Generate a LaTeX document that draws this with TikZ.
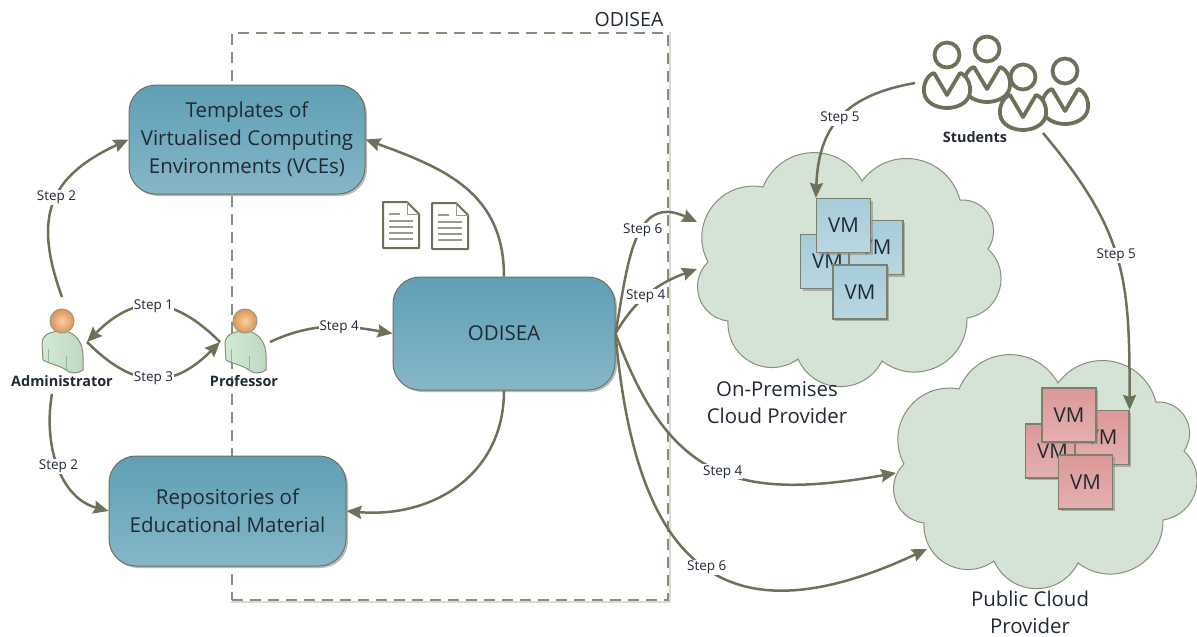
\documentclass[tikz,border=0pt]{standalone}
\usepackage{fontspec}
\setmainfont{Open Sans}
\usepackage{tikz}
\usetikzlibrary{arrows.meta}
\usetikzlibrary{shadows}
\definecolor{flowcol}{HTML}{6E705A}
\definecolor{textcol}{HTML}{1F2A33}
\definecolor{boxtop}{HTML}{5F9FB5}
\definecolor{boxbot}{HTML}{86B6C8}
\definecolor{cloudfill}{HTML}{D5E3D6}
\definecolor{vmbluetop}{HTML}{A6CCDA}
\definecolor{vmbluebot}{HTML}{BAD7E0}
\definecolor{vmredtop}{HTML}{DC9898}
\definecolor{vmredbot}{HTML}{E4B0B0}
\definecolor{actorlight}{HTML}{D3E8D3}
\definecolor{actordark}{HTML}{8DB89A}
\definecolor{headlight}{HTML}{F6CFA8}
\definecolor{headdark}{HTML}{DE9450}
\tikzset{
  softshadow/.style={drop shadow={shadow xshift=2pt,shadow yshift=-2pt,fill=black!45,opacity=.6}},
  bigbox/.style={rectangle,rounded corners=27pt,draw=flowcol,line width=1pt,
                 top color=boxtop,bottom color=boxbot,
                 align=center,softshadow,text=textcol,
                 font=\fontsize{20.5}{28}\selectfont},
  flow/.style={draw=flowcol,line width=2.5pt,-{Stealth[length=15pt,width=13pt,inset=2pt]}},
  steplabel/.style={fill=white,inner sep=1pt,text=textcol,font=\fontsize{13.5}{15}\selectfont},
  actorbox/.style={rectangle,minimum width=50pt,minimum height=90pt,inner sep=0pt,outer sep=0pt},
  actorname/.style={font=\fontsize{14.4}{16}\selectfont\bfseries,text=textcol,inner sep=1pt},
  vmbox/.style={rectangle,draw=flowcol!90,line width=1.2pt,minimum size=54pt,inner sep=0pt,
                softshadow,text=textcol,font=\fontsize{20.5}{24}\selectfont},
  vmblue/.style={vmbox,top color=vmbluetop,bottom color=vmbluebot},
  vmred/.style={vmbox,top color=vmredtop,bottom color=vmredbot},
  cloudname/.style={align=center,text=textcol,inner sep=0pt,font=\fontsize{20.4}{27}\selectfont},
  areaholder/.style={rectangle,minimum height=225pt,inner sep=0pt,outer sep=0pt},
  puff/.style={bend left=64,looseness=1.2},
  pics/cloudshape/.style={code={
    \draw[fill=cloudfill,draw=flowcol!80,line width=1pt]
      (-89,-81) to[puff] (10,-87) to[puff] (108,-68) to[puff] (136,-19)
      to[puff] (115,50) to[puff] (30,93) to[puff] (-54,91)
      to[puff] (-124,53) to[puff] (-144,-6) to[puff] (-89,-81) -- cycle;
  }},
  pics/actoricon/.style={code={
    \draw[draw=flowcol!80,line width=1pt,left color=actorlight,right color=actorlight!70!actordark]
      (-20,2) .. controls (-20,-9) and (-9,-11) .. (2,-11)
      .. controls (14,-10) and (21,2) .. (21,13) -- (21,28)
      .. controls (15,32) and (9,32) .. (4,28)
      .. controls (-3,23) and (-12,22) .. (-19,18) -- cycle;
    \draw[actordark,line width=1pt] (-14,7) -- (-14,20) (4,14) -- (4,28);
    \draw[draw=flowcol!70,line width=1pt,inner color=headlight,outer color=headdark] (0,-21) circle (12);
  }},
  pics/learnericon/.style={code={
    \draw[draw=flowcol,line width=3.8pt,fill=white] (0,0) circle (12.5);
    \draw[draw=flowcol,line width=3.8pt,fill=white,line join=round]
      (0,40) -- (-13,18) .. controls (-20,20) and (-24,30) .. (-23,37)
      .. controls (-22,48) and (-10,53) .. (0,53)
      .. controls (10,53) and (22,48) .. (23,37)
      .. controls (24,30) and (20,20) .. (13,18) -- cycle;
  }},
  pics/docicon/.style={code={
    \draw[draw=flowcol,line width=2pt,fill=white,line join=round]
      (-18,-23) -- (6,-23) -- (18,-11) -- (18,23) -- (-18,23) -- cycle;
    \draw[draw=flowcol!70,line width=1pt] (6,-23) -- (6,-11) -- (18,-11);
    \draw[flowcol!70,line width=1.5pt] (-12,-11) -- (-1,-11) (-12,-4) -- (12,-4)
      (-12,2) -- (12,2) (-12,8) -- (12,8) (-12,14) -- (12,14);
  }},
}
\begin{document}
\begin{tikzpicture}[x=1pt,y=-1pt]
    \useasboundingbox (0,0) rectangle (1197,637);

    % Dashed frame
    \node[rectangle,dash pattern=on 11pt off 7pt,draw=flowcol!80,line width=1.8pt,
          minimum width=436pt,minimum height=567pt,inner sep=0pt] (frame) at (450,316.5) {};
    \draw[flowcol!25,line width=2pt] ([shift={(1.5,0)}]frame.north east)
        -- ([shift={(1.5,1.5)}]frame.south east) -- ([shift={(0,1.5)}]frame.south west);
    \node[text=textcol,inner sep=0pt,font=\fontsize{19.5}{22}\selectfont] (framename) at (629,20) {ODISEA};

    % Clouds
    \pic at (852,268) {cloudshape};
    \pic at (1048,470) {cloudshape};
    \node[areaholder,minimum width=310pt] (oncloud) at (852,268) {};
    \node[areaholder,minimum width=304pt] (pubcloud) at (1048,470) {};
    \node[cloudname] (onname) at (777,403) {On-Premises\\Cloud Provider};
    \node[cloudname] (pubname) at (1030,612.5) {Public Cloud\\Provider};

    % Boxes
    \node[bigbox,minimum width=236pt,minimum height=109pt]
        (tmpl) at (247,139.5) {Templates of\\Virtualised Computing\\Environments (VCEs)};
    \node[bigbox,minimum width=237pt,minimum height=110pt]
        (repo) at (227.5,511) {Repositories of\\Educational Material};
    \node[bigbox,minimum width=222pt,minimum height=113pt]
        (odisea) at (504,333.5) {ODISEA};

    % Documents
    \pic at (401,225) {docicon};
    \pic at (450,226) {docicon};

    % Virtual machines
    \node[vmblue] (onvmc) at (827.5,261.5) {VM};
    \node[vmblue] (onvmb) at (876,247.5) {VM};
    \node[vmblue] (onvmd) at (860,292) {VM};
    \node[vmblue] (onvma) at (843.5,225.5) {VM};
    \node[vmred] (pubvmc) at (1052.5,451) {VM};
    \node[vmred] (pubvmb) at (1102,437.5) {VM};
    \node[vmred] (pubvmd) at (1085.5,482) {VM};
    \node[vmred] (pubvma) at (1069,415) {VM};

    % Actors
    \pic at (62,342) {actoricon};
    \pic at (245,342) {actoricon};
    \node[actorbox] (admin) at (62,342) {};
    \node[actorbox] (prof) at (245,342) {};
    \node[actorname] (adminname) at (62,381) {Administrator};
    \node[actorname] (profname) at (244,381) {Professor};

    % Students
    \pic at (987,49) {learnericon};
    \pic at (1065,71) {learnericon};
    \pic at (947,55) {learnericon};
    \pic at (1023,77) {learnericon};
    \node[rectangle,minimum width=176pt,minimum height=100pt,inner sep=0pt,outer sep=0pt]
        (students) at (1003,83) {};
    \node[actorname] (studname) at (975,137) {Students};

    % Flows of the actors
    \draw[flow] (admin.north) to[out=110,in=205,looseness=1.3]
        node[steplabel,pos=.53] {Step 2} (tmpl.west);
    \draw[flow] ([shift={(-10,6)}]adminname.south) to[out=-100,in=165,looseness=1]
        node[steplabel,pos=.5] {Step 2} (repo.west);
    \draw[flow] (prof.west) to[out=135,in=45,looseness=1.3]
        node[steplabel,pos=.5] {Step 1} (admin.east);
    \draw[flow] (admin.east) to[out=-45,in=-135,looseness=1.3]
        node[steplabel,pos=.5] {Step 3} (prof.west);
    \draw[flow] (prof.east) to[out=25,in=170]
        node[steplabel,pos=.58] {Step 4} (odisea.west);

    % Flows of the platform
    \draw[flow] (odisea.north) to[out=90,in=-20,looseness=1.1] (tmpl.east);
    \draw[flow] (odisea.south) to[out=-90,in=-5,looseness=1.1] (repo.east);
    \draw[flow] (odisea.east) to[out=80,in=155,looseness=1.3]
        node[steplabel,pos=.58] {Step 6} ([shift={(0,-46)}]oncloud.west);
    \draw[flow] (odisea.east) to[out=60,in=200,looseness=1]
        node[steplabel,pos=.45] {Step 4} ([shift={(0,1)}]oncloud.west);
    \draw[flow] (odisea.east) to[out=-70,in=190,looseness=1.3]
        node[steplabel,pos=.52] {Step 4} ([shift={(0,3)}]pubcloud.west);
    \draw[flow] (odisea.east) to[out=-85,in=205,looseness=1.55]
        node[steplabel,pos=.52] {Step 6} ([shift={(31,79)}]pubcloud.west);

    % Flows of the students
    \draw[flow] (students.west) to[out=190,in=88,looseness=1.2]
        node[steplabel,pos=.5] {Step 5} (onvma.north west);
    \draw[flow] ([xshift=40pt]students.south) to[out=-50,in=90,looseness=1.15]
        node[steplabel,pos=.48] {Step 5} (pubvmb.north east);
\end{tikzpicture}
\end{document}
